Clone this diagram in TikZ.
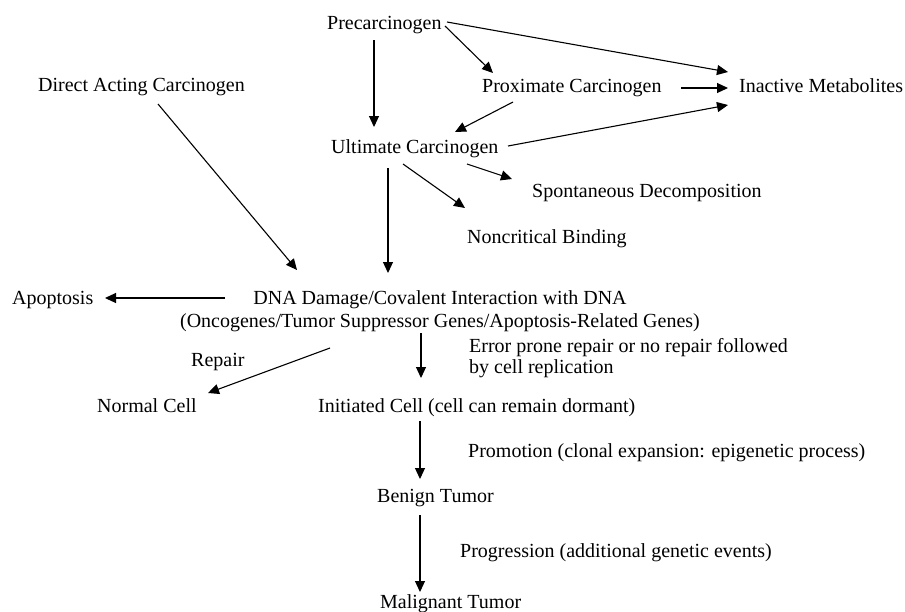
\documentclass[tikz,border=0pt]{standalone}
\usepackage{fontspec}
\setmainfont{Liberation Serif}
\usepackage{tikz}
\usetikzlibrary{arrows.meta}
\tikzset{
  % plain text label
  lbl/.style={inner sep=0pt, anchor=base west, font=\fontsize{20pt}{23pt}\selectfont},
  % arrow style
  arr/.style={-{Triangle[length=11pt, width=10pt]}, line width=1.1pt},
}

\begin{document}
\begin{tikzpicture}[x=1pt, y=-1pt]
  \useasboundingbox (0,0) rectangle (905,611);
  \node[lbl] (pre)     at (327,29)  {Precarcinogen};
  \node[lbl] (dac)     at (38,91)   {Direct Acting Carcinogen};
  \node[lbl] (prox)    at (482,92)  {Proximate Carcinogen};
  \node[lbl] (inact)   at (739,92)  {Inactive Metabolites};
  \node[lbl] (ult)     at (331,153) {Ultimate Carcinogen};
  \node[lbl] (spont)   at (532,197) {Spontaneous Decomposition};
  \node[lbl] (noncrit) at (467,243) {Noncritical Binding};
  \node[lbl] (apop)    at (12,304)  {Apoptosis};
  \node[lbl, anchor=base, align=center] (dna) at (440,327)
    {DNA Damage/Covalent Interaction with DNA\\(Oncogenes/Tumor Suppressor Genes/Apoptosis-Related Genes)};
  \node[lbl] (repair)  at (191,366) {Repair};
  \node[lbl, align=left, font=\fontsize{20pt}{21pt}\selectfont] (error) at (469,373)
    {Error prone repair or no repair followed\\by cell replication};
  \node[lbl] (normal)  at (97,412)  {Normal Cell};
  \node[lbl] (init)    at (318,412) {Initiated Cell (cell can remain dormant)};
  \node[lbl] (promo)   at (468,457) {Promotion (clonal expansion: epigenetic process)};
  \node[lbl] (benign)  at (377,502) {Benign Tumor};
  \node[lbl] (progr)   at (460,557) {Progression (additional genetic events)};
  \node[lbl] (malig)   at (380,608) {Malignant Tumor};

  % metabolic activation
  \draw[arr] ([shift={(47,11)}]pre.base west)    -- ([shift={(43,-26)}]ult.base west);
  \draw[arr] ([shift={(120,-7)}]pre.base west)   -- ([shift={(-11,-20)}]inact.base west);
  \draw[arr] ([shift={(118,-3)}]pre.base west)   -- ([shift={(11,-19)}]prox.base west);
  \draw[arr] ([shift={(199,-4)}]prox.base west)  -- ([shift={(-11,-4)}]inact.base west);
  \draw[arr] ([shift={(31,10)}]prox.base west)   -- ([shift={(124,-21)}]ult.base west);
  \draw[arr] ([shift={(177,-7)}]ult.base west)   -- ([shift={(-11,13)}]inact.base west);
  \draw[arr] ([shift={(136,11)}]ult.base west)   -- ([shift={(-20,-18)}]spont.base west);
  \draw[arr] ([shift={(72,11)}]ult.base west)    -- ([shift={(-2,-35)}]noncrit.base west);
  \draw[arr] ([shift={(57,15)}]ult.base west)    -- ([shift={(-52,-54)}]dna.base);
  \draw[arr] ([shift={(120,13)}]dac.base west)   -- ([shift={(-143,-57)}]dna.base);
  % fate of the damage
  \draw[arr] ([shift={(-215,-29)}]dna.base)      -- ([shift={(93,-6)}]apop.base west);
  \draw[arr] ([shift={(-110,21)}]dna.base)       -- ([shift={(111,-19)}]normal.base west);
  \draw[arr] ([shift={(-19,6)}]dna.base)         -- ([shift={(103,-34)}]init.base west);
  \draw[arr] ([shift={(102,9)}]init.base west)   -- ([shift={(43,-23)}]benign.base west);
  \draw[arr] ([shift={(43,13)}]benign.base west) -- ([shift={(40,-16)}]malig.base west);
\end{tikzpicture}
\end{document}
